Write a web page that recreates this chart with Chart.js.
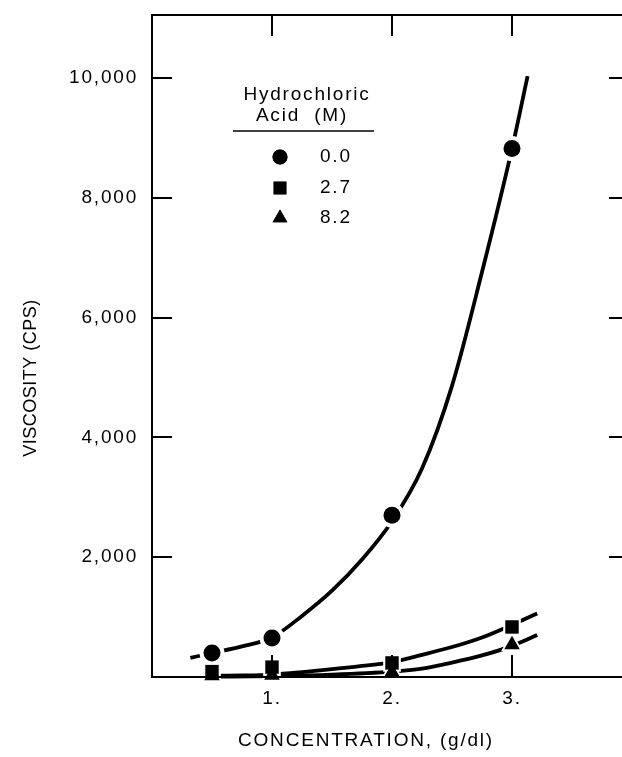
<!DOCTYPE html>
<html><head><meta charset="utf-8">
<script src="https://cdn.jsdelivr.net/npm/chart.js@4/dist/chart.umd.min.js"></script>
<style>html,body{margin:0;padding:0;background:#fff;}#wrap{width:622px;height:757px;}</style>
</head><body><div id="wrap"><canvas id="c" width="622" height="757"></canvas></div>
<script>
// ---- data ----
const xTickValues = [1, 2, 3];
const xTickLabels = ['1.', '2.', '3.'];
const yTickValues = [2000, 4000, 6000, 8000, 10000];
const yTickLabels = ['2,000', '4,000', '6,000', '8,000', '10,000'];

const concentration = [0.5, 1, 2, 3];
const visc_0_0 = [400, 650, 2700, 8820];
const visc_2_7 = [90, 165, 235, 835];
const visc_8_2 = [20, 30, 80, 540];

// hand-drawn fitted curves
const curve_0_0_x = [0.32, 0.5, 0.75, 1.0, 1.25, 1.5, 1.75, 2.0, 2.25, 2.5, 2.75, 3.0, 3.13];
const curve_0_0_y = [320, 400, 510, 660, 1020, 1440, 1960, 2600, 3480, 4860, 6760, 8820, 10030];
const curve_2_7_x = [0.5, 0.75, 1.0, 1.25, 1.5, 1.75, 2.0, 2.25, 2.5, 2.75, 3.0, 3.21];
const curve_2_7_y = [20, 25, 40, 80, 130, 185, 250, 370, 500, 660, 870, 1060];
const curve_8_2_x = [0.5, 1.0, 1.5, 2.0, 2.25, 2.5, 2.75, 3.0, 3.21];
const curve_8_2_y = [5, 15, 40, 90, 140, 240, 360, 520, 700];

const legendTitle = ['Hydrochloric', 'Acid  (M)'];
const legendLabels = ['0.0', '2.7', '8.2'];
const xTitle = 'CONCENTRATION, (g/dl)';
const yTitle = 'VISCOSITY (CPS)';

// ---- styling ----
const FONT = "'Liberation Sans', Arial, Helvetica, sans-serif";
const LS = '1.8px';
Chart.defaults.font.family = FONT;
Chart.defaults.font.size = 19;
Chart.defaults.color = '#000';

const pts = (xs, ys) => xs.map((x, i) => ({x: x, y: ys[i]}));
const styles = ['circle', 'rect', 'triangle'];
const markerR = [8.5, 9.5, 9];
const haloR = [12.5, 12.5, 12.5];
const series = [visc_0_0, visc_2_7, visc_8_2];
const curves = [[curve_0_0_x, curve_0_0_y], [curve_2_7_x, curve_2_7_y], [curve_8_2_x, curve_8_2_y]];

const datasets = [];
curves.forEach((c) => datasets.push({
  data: pts(c[0], c[1]), showLine: true, borderColor: '#000', borderWidth: 3.8,
  pointRadius: 0, cubicInterpolationMode: 'monotone', order: 3, clip: false
}));
series.forEach((s, i) => datasets.push({
  data: pts(concentration, s), pointStyle: styles[i], pointRadius: haloR[i],
  backgroundColor: '#fff', borderWidth: 0, order: 2, clip: false
}));
series.forEach((s, i) => datasets.push({
  data: pts(concentration, s), pointStyle: styles[i], pointRadius: markerR[i],
  backgroundColor: '#000', borderColor: '#000', borderWidth: 0, order: 1, clip: false
}));

const spacingPlugin = {
  id: 'spacing',
  beforeUpdate(chart) { chart.ctx.letterSpacing = LS; },
  beforeLayout(chart) { chart.ctx.letterSpacing = LS; },
  beforeDraw(chart) { chart.ctx.letterSpacing = LS; }
};

const framePlugin = {
  id: 'frame',
  afterDatasetsDraw(chart) {
    const ctx = chart.ctx, a = chart.chartArea;
    const xs = chart.scales.x, ys = chart.scales.y;
    ctx.save();
    ctx.strokeStyle = '#000';
    ctx.lineWidth = 2;
    ctx.lineCap = 'butt';
    ctx.beginPath();
    ctx.moveTo(a.right, a.top); ctx.lineTo(a.left, a.top); ctx.lineTo(a.left, a.bottom); ctx.lineTo(a.right, a.bottom);
    xTickValues.forEach(v => {
      const px = Math.round(xs.getPixelForValue(v));
      ctx.moveTo(px, a.top); ctx.lineTo(px, a.top + 21);
      ctx.moveTo(px, a.bottom); ctx.lineTo(px, a.bottom - 22);
    });
    yTickValues.forEach(v => {
      const py = Math.round(ys.getPixelForValue(v));
      ctx.moveTo(a.left, py); ctx.lineTo(a.left + 20, py);
      ctx.moveTo(a.right - 13, py); ctx.lineTo(a.right, py);
    });
    ctx.stroke();
    ctx.restore();
  },
  afterDraw(chart) {
    const ctx = chart.ctx;
    ctx.save();
    ctx.letterSpacing = LS;
    ctx.fillStyle = '#000';
    ctx.font = '19px ' + FONT;
    ctx.textAlign = 'center';
    ctx.textBaseline = 'middle';
    // axis titles
    ctx.fillText(xTitle, 366, 741);
    ctx.save();
    ctx.letterSpacing = '0.5px';
    ctx.font = '18px ' + FONT;
    ctx.translate(31, 378);
    ctx.rotate(-Math.PI / 2);
    ctx.fillText(yTitle, 0, 0);
    ctx.restore();
    // legend
    ctx.fillText(legendTitle[0], 307, 95);
    ctx.fillText(legendTitle[1], 302, 116);
    ctx.strokeStyle = '#000';
    ctx.lineWidth = 1.5;
    ctx.beginPath(); ctx.moveTo(233, 131); ctx.lineTo(374, 131); ctx.stroke();
    const rows = [157, 188, 218];
    const lr = [7.5, 9, 8.5];
    ctx.textAlign = 'left';
    legendLabels.forEach((t, i) => {
      Chart.helpers.drawPoint(ctx, {pointStyle: styles[i], radius: lr[i], borderWidth: 0, rotation: 0}, 280, rows[i]);
      ctx.fillStyle = '#000';
      ctx.fill();
      ctx.fillText(t, 320, rows[i]);
    });
    ctx.restore();
  }
};

new Chart(document.getElementById('c'), {
  type: 'scatter',
  data: {datasets: datasets},
  options: {
    responsive: false,
    animation: false,
    devicePixelRatio: 1,
    layout: {autoPadding: false, padding: {top: 15, right: 0, left: 0, bottom: 0}},
    plugins: {legend: {display: false}, tooltip: {enabled: false}},
    elements: {point: {hoverRadius: 0}},
    scales: {
      x: {
        type: 'linear', min: 0, max: 470 / 120,
        grid: {display: false, drawTicks: false}, border: {display: false},
        afterBuildTicks: (s) => { s.ticks = xTickValues.map(v => ({value: v})); },
        afterFit: (s) => { s.height = 80; s.paddingLeft = 0; s.paddingRight = 0; },
        ticks: {padding: 10, maxRotation: 0, autoSkip: false,
          callback: (v) => { const i = xTickValues.indexOf(v); return i >= 0 ? xTickLabels[i] : ''; }}
      },
      y: {
        type: 'linear', min: 0, max: 11050,
        grid: {display: false, drawTicks: false}, border: {display: false},
        afterBuildTicks: (s) => { s.ticks = yTickValues.map(v => ({value: v})); },
        afterFit: (s) => { s.width = 152; s.paddingTop = 0; s.paddingBottom = 0; },
        ticks: {padding: 14, autoSkip: false,
          callback: (v) => { const i = yTickValues.indexOf(v); return i >= 0 ? yTickLabels[i] : ''; }}
      }
    }
  },
  plugins: [spacingPlugin, framePlugin]
});
</script>
</body></html>
